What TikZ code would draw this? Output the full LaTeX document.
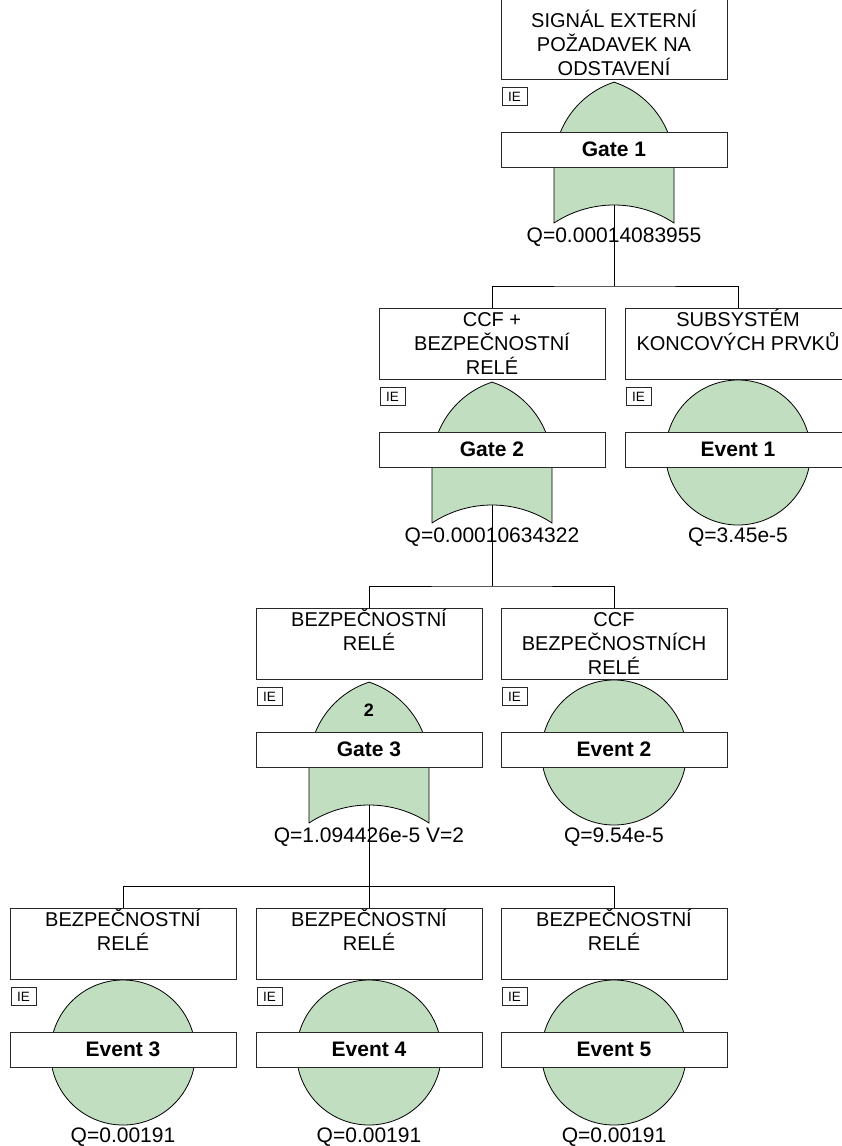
\documentclass[tikz,border=0pt]{standalone}
\usepackage{fontspec}
\setmainfont{Liberation Sans}
\definecolor{gatefill}{RGB}{193,222,193}
\definecolor{edge}{RGB}{40,40,40}

% OR gate body: pointed arch on top, straight sides, concave bottom.
% #1 = centre x, #2 = depth of the description box bottom (positive, downwards)
\newcommand\orgateshape[2]{%
  \path[gateshape] (#1-60,{-(#2+144)}) -- (#1-60,{-(#2+86)})
    arc[start angle=180, end angle=108.15, radius=87.2pt]
    arc[start angle=71.85, end angle=0, radius=87.2pt]
    -- (#1+60,{-(#2+144)})
    arc[start angle=56.6, end angle=123.4, radius=109pt] -- cycle;}

\begin{document}
\begin{tikzpicture}[x=1pt,y=1pt,
  wire/.style={draw=black, line width=1pt},
  gateshape/.style={draw=black, fill=gatefill, line width=0.8pt},
  descbox/.style={draw=edge, line width=0.9pt, fill=white, minimum width=226pt, minimum height=71pt, inner sep=0pt},
  desctext/.style={anchor=north, inner sep=0pt, align=center, font=\fontsize{20}{24}\selectfont},
  namebox/.style={draw=edge, line width=0.9pt, fill=white, minimum width=226pt, minimum height=35pt, inner sep=0pt, font=\fontsize{21}{24}\selectfont\bfseries},
  iebox/.style={draw=edge, line width=0.8pt, fill=white, minimum width=25pt, minimum height=18pt, inner sep=0pt, anchor=north west, font=\fontsize{13.5}{14}\selectfont},
  qlabel/.style={anchor=base, inner sep=0pt, font=\fontsize{21}{24}\selectfont},
  eventcircle/.style={circle, draw=black, line width=0.8pt, fill=gatefill, minimum size=145pt, inner sep=0pt},
]
\useasboundingbox (0,0) rectangle (842,-1146);

% ---------- level 1: Gate 1 ----------
\orgateshape{614}{79}
\node[descbox, minimum height=81pt] (d1) at (614,-38.5) {};
\node[desctext] (t1) at (614,-8) {\rule{0pt}{19pt}SIGNÁL EXTERNÍ\\POŽADAVEK NA\\ODSTAVENÍ};
\node[iebox] (ie1) at ([xshift=1pt,yshift=-8pt]d1.south west) {IE};
\node[namebox] (g1) at (614,-149.5) {Gate 1};
\coordinate (g1o) at (614,-205);
\node[qlabel] (q1) at (614,-242) {Q=0.00014083955};

% ---------- level 2: Gate 2 and Event 1 ----------
\orgateshape{492}{379}
\node[descbox] (d2) at (492,-343.5) {};
\node[desctext] (t2) at (d2.north) {\rule{0pt}{19pt}CCF +\\BEZPEČNOSTNÍ\\RELÉ};
\node[iebox] (ie2) at ([xshift=1pt,yshift=-8pt]d2.south west) {IE};
\node[namebox] (g2) at (492,-449.5) {Gate 2};
\coordinate (g2o) at (492,-505);
\node[qlabel] (q2) at (492,-542) {Q=0.00010634322};

\node[eventcircle] (c1) at (738,-452.5) {};
\node[descbox] (d3) at (738,-343.5) {};
\node[desctext] (t3) at (d3.north) {\rule{0pt}{19pt}SUBSYSTÉM\\KONCOVÝCH PRVKŮ};
\node[iebox] (ie3) at ([xshift=1pt,yshift=-8pt]d3.south west) {IE};
\node[namebox] (e1) at (738,-449.5) {Event 1};
\node[qlabel] (q3) at (738,-542) {Q=3.45e-5};

% ---------- level 3: Gate 3 and Event 2 ----------
\orgateshape{369}{679}
\node[descbox] (d4) at (369,-643.5) {};
\node[desctext] (t4) at (d4.north) {\rule{0pt}{19pt}BEZPEČNOSTNÍ\\RELÉ};
\node[iebox] (ie4) at ([xshift=1pt,yshift=-8pt]d4.south west) {IE};
\node[anchor=base, inner sep=0pt, font=\fontsize{18}{20}\selectfont\bfseries] (v3) at (369,-716) {2};
\node[namebox] (g3) at (369,-749.5) {Gate 3};
\coordinate (g3o) at (369,-805);
\node[qlabel] (q4) at (369,-842) {Q=1.094426e-5 V=2};

\node[eventcircle] (c2) at (614,-752.5) {};
\node[descbox] (d5) at (614,-643.5) {};
\node[desctext] (t5) at (d5.north) {\rule{0pt}{19pt}CCF\\BEZPEČNOSTNÍCH\\RELÉ};
\node[iebox] (ie5) at ([xshift=1pt,yshift=-8pt]d5.south west) {IE};
\node[namebox] (e2) at (614,-749.5) {Event 2};
\node[qlabel] (q5) at (614,-842) {Q=9.54e-5};

% ---------- level 4: Events 3, 4, 5 ----------
\foreach \cx/\nm/\k in {123/Event 3/6, 369/Event 4/7, 614/Event 5/8}{
  \node[eventcircle] (c\k) at (\cx,-1052.5) {};
  \node[descbox] (d\k) at (\cx,-943.5) {};
  \node[desctext] (t\k) at (d\k.north) {\rule{0pt}{19pt}BEZPEČNOSTNÍ\\RELÉ};
  \node[iebox] (ie\k) at ([xshift=1pt,yshift=-8pt]d\k.south west) {IE};
  \node[namebox] (e\k) at (\cx,-1049.5) {\nm};
  \node[qlabel] (q\k) at (\cx,-1142) {Q=0.00191};
}

% ---------- connectors ----------
\coordinate (bus1) at (614,-286);
\draw[wire] (g1o) -- (bus1);
\draw[wire] (d2.north) |- (bus1) -| (d3.north);

\coordinate (bus2) at (492,-586);
\draw[wire] (g2o) -- (bus2);
\draw[wire] (d4.north) |- (bus2) -| (d5.north);

\coordinate (bus3) at (369,-886);
\draw[wire] (g3o) -- (bus3);
\draw[wire] (d6.north) |- (bus3) -| (d8.north);
\draw[wire] (bus3) -- (d7.north);
\end{tikzpicture}
\end{document}
